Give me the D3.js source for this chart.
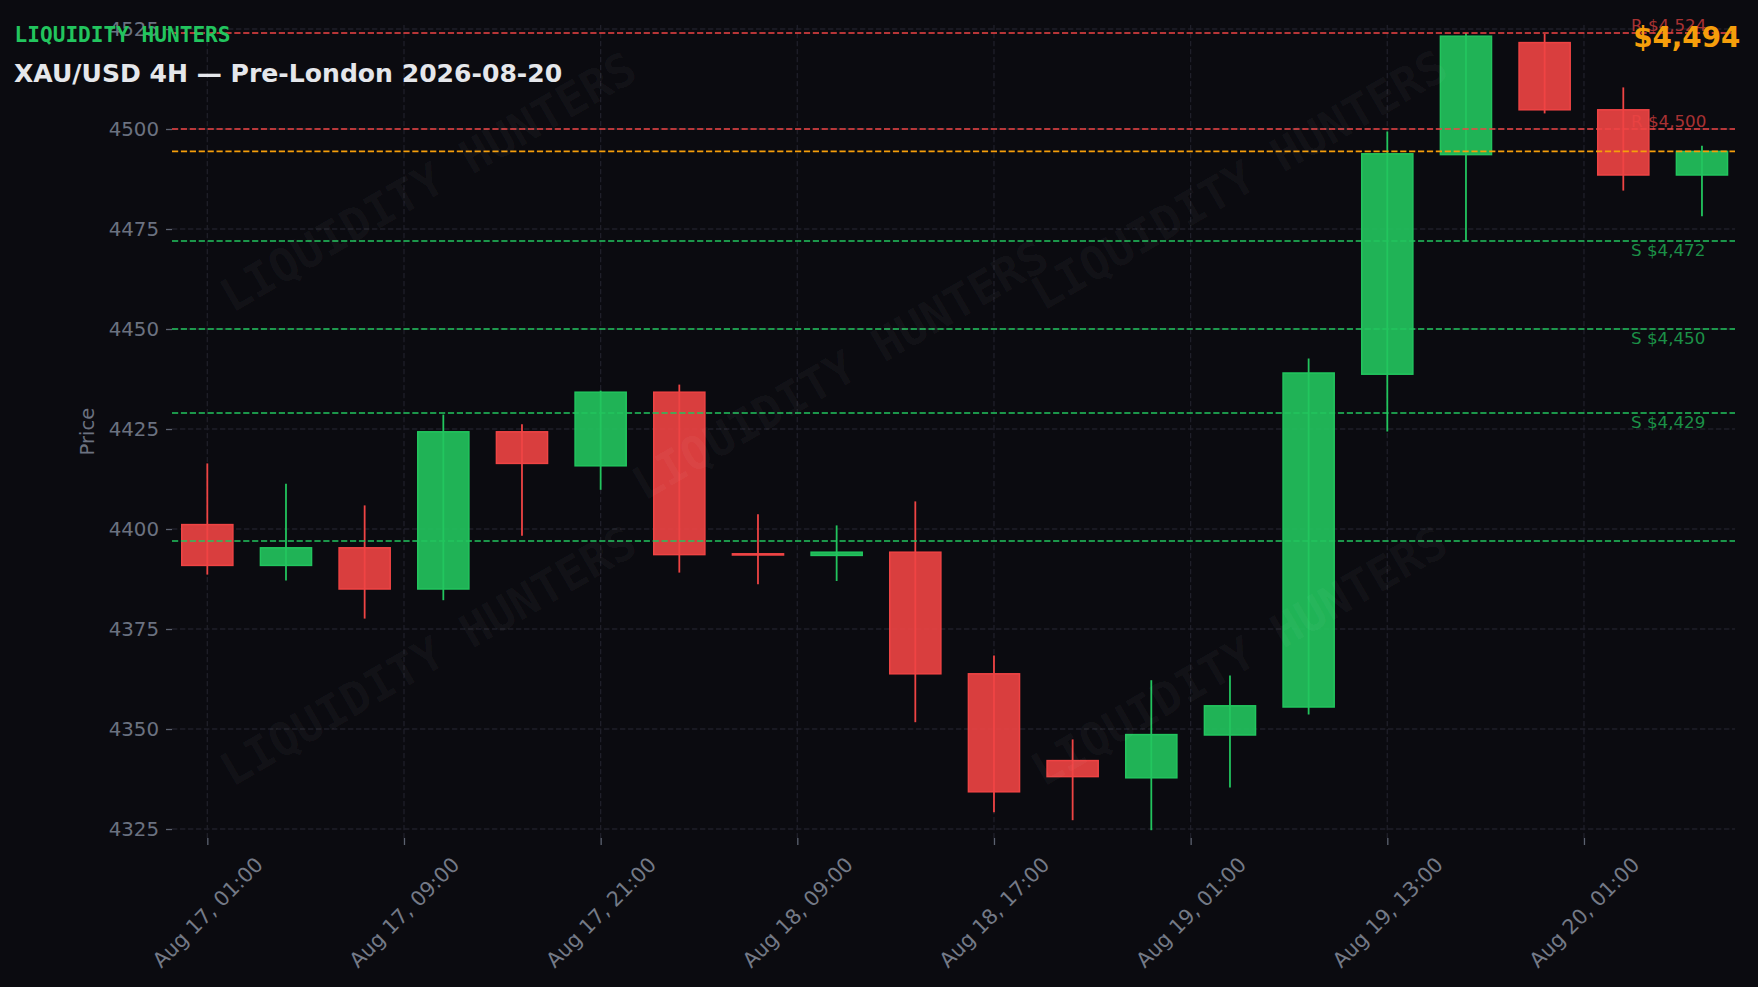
<!DOCTYPE html>
<html>
<head>
<meta charset="utf-8">
<script src="https://cdn.jsdelivr.net/npm/d3@7/dist/d3.min.js"></script>
<style>
  html, body { margin: 0; padding: 0; background: #0b0b10; }
  svg { display: block; }
</style>
</head>
<body>
<svg id="chart" width="1758" height="987"></svg>
<script>
// ---- data ----
const opens  = [4401.1, 4390.9, 4395.3, 4385.0, 4424.3, 4415.8, 4434.2, 4393.8, 4393.4, 4394.2,
                4363.8, 4342.1, 4337.8, 4348.5, 4355.5, 4438.7, 4493.6, 4521.6, 4504.8, 4488.5];
const highs  = [4416.4, 4411.3, 4405.9, 4428.6, 4426.2, 4434.6, 4436.1, 4403.7, 4400.9, 4406.9,
                4368.4, 4347.4, 4362.2, 4363.4, 4442.6, 4499.4, 4524.0, 4523.8, 4510.4, 4495.8];
const lows   = [4388.6, 4387.1, 4377.6, 4382.2, 4398.3, 4409.8, 4389.1, 4386.2, 4387.0, 4351.7,
                4329.2, 4327.2, 4324.7, 4335.4, 4353.6, 4424.4, 4472.0, 4503.9, 4484.6, 4478.2];
const closes = [4390.9, 4395.3, 4385.0, 4424.3, 4416.4, 4434.2, 4393.6, 4393.5, 4394.2, 4363.8,
                4334.3, 4338.1, 4348.6, 4355.8, 4439.0, 4493.8, 4523.2, 4504.8, 4488.5, 4494.4];

const xTickIndex  = [0, 2.5, 5, 7.5, 10, 12.5, 15, 17.5];
const xTickLabels = ["Aug 17, 01:00", "Aug 17, 09:00", "Aug 17, 21:00", "Aug 18, 09:00",
                     "Aug 18, 17:00", "Aug 19, 01:00", "Aug 19, 13:00", "Aug 20, 01:00"];
const yTicks = [4325, 4350, 4375, 4400, 4425, 4450, 4475, 4500, 4525];

const resistanceLevels = [4524, 4500];
const resistanceLabels = ["R $4,524", "R $4,500"];
const supportLevels    = [4472, 4450, 4429];
const supportLabels    = ["S $4,472", "S $4,450", "S $4,429"];
const extraSupport     = [4397];
const currentPrice     = 4494.4;
const currentLabel     = "$4,494";

const brand = "LIQUIDITY HUNTERS";
const title = "XAU/USD 4H \u2014 Pre-London 2026-08-20";
const yLabel = "Price";

// ---- layout ----
const W = 1758, H = 987;
const L = 172, R = 1735, T = 25, B = 838;
const BG = "#0b0b10";
const RED = "#ef4444", GREEN = "#22c55e", ORANGE = "#f59e0b";
const TICKC = "#6b7280";
const GRIDC = "#1f1f29";

const svg = d3.select("#chart");
svg.append("rect").attr("width", W).attr("height", H).attr("fill", BG);

const x = d3.scaleLinear().domain([-0.449, 19.42]).range([L, R]);
const y = d3.scaleLinear().domain([4322.75, 4526]).range([B, T]);

// grid
const grid = svg.append("g");
grid.selectAll("line.gy").data(yTicks).join("line")
  .attr("x1", L).attr("x2", R)
  .attr("y1", d => y(d)).attr("y2", d => y(d))
  .attr("stroke", GRIDC).attr("stroke-width", 1.3).attr("stroke-dasharray", "5.3,2.7");
grid.selectAll("line.gx").data(xTickIndex).join("line")
  .attr("x1", d => x(d)).attr("x2", d => x(d))
  .attr("y1", T).attr("y2", B)
  .attr("stroke", GRIDC).attr("stroke-width", 1.3).attr("stroke-dasharray", "5.3,2.7");

// y axis
const yAxis = d3.axisLeft(y).tickValues(yTicks).tickSize(6).tickPadding(7).tickFormat(d3.format("d"));
const gy = svg.append("g").attr("transform", `translate(${L},0)`).call(yAxis);
gy.select(".domain").remove();
gy.selectAll(".tick line").attr("stroke", "#5c6270").attr("stroke-width", 1.3);
gy.selectAll(".tick text").attr("fill", TICKC).attr("font-family", "DejaVu Sans")
  .attr("font-size", "19.8px");

// x axis
const xAxis = d3.axisBottom(x).tickValues(xTickIndex).tickSize(7).tickFormat((d, i) => xTickLabels[i]);
const gx = svg.append("g").attr("transform", `translate(0,${B})`).call(xAxis);
gx.select(".domain").remove();
gx.selectAll(".tick line").attr("stroke", "#5c6270").attr("stroke-width", 1.3);
gx.selectAll(".tick text")
  .attr("fill", "#747a87").attr("font-family", "DejaVu Sans").attr("font-size", "20.6px")
  .attr("text-anchor", "middle").attr("dominant-baseline", "central")
  .attr("dy", null).attr("y", null)
  .attr("transform", `translate(0,${912.5 - B}) rotate(-45)`);

// y label
svg.append("text")
  .attr("transform", `translate(87,${(T + B) / 2}) rotate(-90)`)
  .attr("text-anchor", "middle").attr("dominant-baseline", "central")
  .attr("fill", TICKC).attr("font-family", "DejaVu Sans").attr("font-size", "19.6px")
  .text(yLabel);

// candles
const bw = 0.65 * (x(1) - x(0));
const idx = d3.range(opens.length);
const cg = svg.append("g");
cg.selectAll("line.wick").data(idx).join("line")
  .attr("x1", i => x(i)).attr("x2", i => x(i))
  .attr("y1", i => y(highs[i])).attr("y2", i => y(lows[i]))
  .attr("stroke", i => closes[i] >= opens[i] ? GREEN : RED)
  .attr("stroke-width", 1.8);
cg.selectAll("rect.body").data(idx).join("rect")
  .attr("x", i => x(i) - bw / 2)
  .attr("width", bw)
  .attr("y", i => y(Math.max(opens[i], closes[i])))
  .attr("height", i => Math.max(0.6, Math.abs(y(opens[i]) - y(closes[i]))))
  .attr("fill", i => closes[i] >= opens[i] ? GREEN : RED)
  .attr("fill-opacity", 0.9)
  .attr("stroke", i => closes[i] >= opens[i] ? GREEN : RED)
  .attr("stroke-width", 1.5);

// level lines
const lv = svg.append("g");
function levelLine(vals, color) {
  lv.selectAll(null).data(vals).join("line")
    .attr("x1", L).attr("x2", R)
    .attr("y1", d => y(d)).attr("y2", d => y(d))
    .attr("stroke", color).attr("stroke-width", 1.7).attr("stroke-dasharray", "6.2,2.7");
}
levelLine(resistanceLevels, RED);
levelLine(supportLevels, GREEN);
levelLine(extraSupport, GREEN);
levelLine([currentPrice], ORANGE);

lv.selectAll(null).data(resistanceLevels).join("text")
  .attr("x", 1631).attr("y", d => y(d) - 2.5)
  .attr("fill", RED).attr("fill-opacity", 0.7)
  .attr("font-family", "DejaVu Sans").attr("font-size", "16.7px")
  .text((d, i) => resistanceLabels[i]);
lv.selectAll(null).data(supportLevels).join("text")
  .attr("x", 1631).attr("y", d => y(d) + 15)
  .attr("fill", GREEN).attr("fill-opacity", 0.72)
  .attr("font-family", "DejaVu Sans").attr("font-size", "16.7px")
  .text((d, i) => supportLabels[i]);

// watermark
const wm = [[428, 182], [840, 370], [1239, 180], [428, 656], [1239, 656]];
svg.append("g").selectAll("text").data(wm).join("text")
  .attr("transform", d => `translate(${d[0]},${d[1]}) rotate(-30)`)
  .attr("text-anchor", "middle").attr("dominant-baseline", "central")
  .attr("font-family", "DejaVu Sans Mono").attr("font-weight", "bold").attr("font-size", "46px")
  .attr("fill", "#ffffff").attr("fill-opacity", 0.04)
  .text(brand);

// header texts
svg.append("text").attr("x", 14.6).attr("y", 41.5)
  .attr("font-family", "DejaVu Sans Mono").attr("font-weight", "bold").attr("font-size", "21.1px")
  .attr("fill", GREEN).text(brand);
svg.append("text").attr("x", 14).attr("y", 81.5)
  .attr("font-family", "DejaVu Sans").attr("font-weight", "bold").attr("font-size", "25.1px")
  .attr("fill", "#e5e7eb").text(title);
svg.append("text").attr("x", 1740.4).attr("y", 46.5).attr("text-anchor", "end")
  .attr("font-family", "DejaVu Sans").attr("font-weight", "bold").attr("font-size", "27.8px")
  .attr("fill", ORANGE).text(currentLabel);
</script>
</body>
</html>
